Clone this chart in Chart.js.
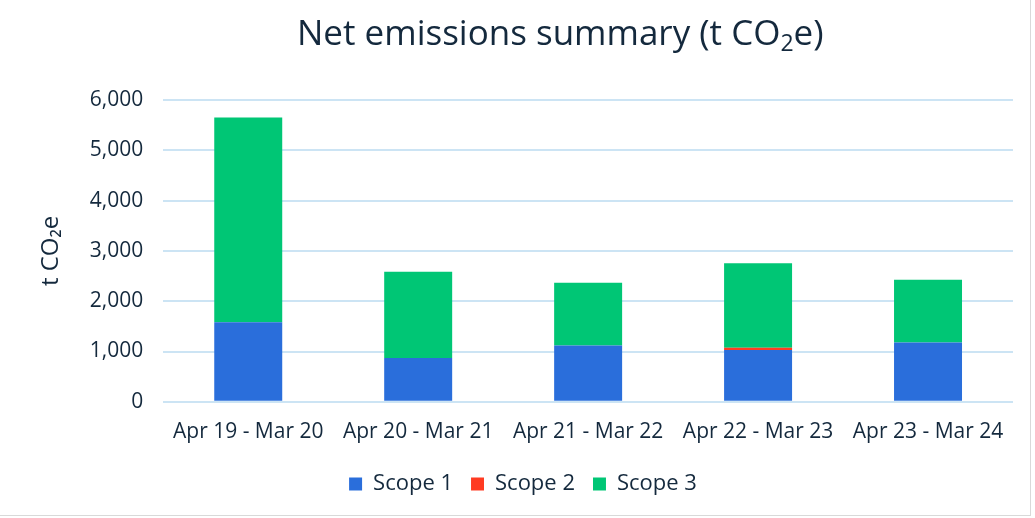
<!DOCTYPE html>
<html>
<head>
<meta charset="utf-8">
<script src="https://cdn.jsdelivr.net/npm/chart.js@4"></script>
<style>
  body { margin: 0; background: #fff; }
  #wrap { position: relative; width: 1030px; height: 515px; border-right: 1px solid #d9d9d9; border-bottom: 1px solid #d9d9d9; }
  #title { position: absolute; left: 297px; top: 11px; font: 35px 'Open Sans', sans-serif; line-height: 42px; color: #14293d; white-space: nowrap; }
  #title sub { font-size: 23px; vertical-align: -6px; line-height: 0; }
</style>
</head>
<body>
<div id="wrap">
  <canvas id="myChart" width="1030" height="515"></canvas>
  <div id="title">Net emissions summary (t CO<sub>2</sub>e)</div>
</div>
<script>
const periods = ["Apr 19 - Mar 20", "Apr 20 - Mar 21", "Apr 21 - Mar 22", "Apr 22 - Mar 23", "Apr 23 - Mar 24"];
const scope1 = [1580, 870, 1120, 1030, 1180];
const scope2 = [0, 0, 0, 45, 0];
const scope3 = [4070, 1715, 1245, 1680, 1245];

const textColor = "#14293d";
const fontName = "'Open Sans', sans-serif";

new Chart("myChart", {
  type: "bar",
  data: {
    labels: periods,
    datasets: [
      { label: "Scope 1", data: scope1, backgroundColor: "#2a6edb" },
      { label: "Scope 2", data: scope2, backgroundColor: "#ff3b22" },
      { label: "Scope 3", data: scope3, backgroundColor: "#00c675" },
    ],
  },
  options: {
    responsive: false,
    animation: false,
    layout: { padding: { left: 33, right: 17, top: 100, bottom: 10 } },
    datasets: { bar: { barPercentage: 0.4, categoryPercentage: 1 } },
    plugins: {
      legend: {
        position: "bottom",
        labels: {
          color: textColor,
          font: { family: fontName, size: 22 },
          boxWidth: 13,
          boxHeight: 13,
          padding: 18,
        },
      },
      tooltip: { enabled: false },
    },
    scales: {
      x: {
        stacked: true,
        grid: { display: false },
        border: { display: false },
        ticks: { color: textColor, font: { family: fontName, size: 21 }, padding: 10, maxRotation: 0 },
      },
      y: {
        stacked: true,
        min: 0,
        max: 6000,
        grid: { color: "#cce4f4", lineWidth: 2, drawTicks: false },
        border: { display: false },
        ticks: {
          stepSize: 1000,
          color: textColor,
          font: { family: fontName, size: 21 },
          padding: 20,
          callback: (v) => v.toLocaleString("en-US"),
        },
        title: {
          display: true,
          text: "t CO₂e",
          color: textColor,
          font: { family: fontName, size: 24 },
          padding: { bottom: 4 },
        },
      },
    },
  },
});
</script>
</body>
</html>
